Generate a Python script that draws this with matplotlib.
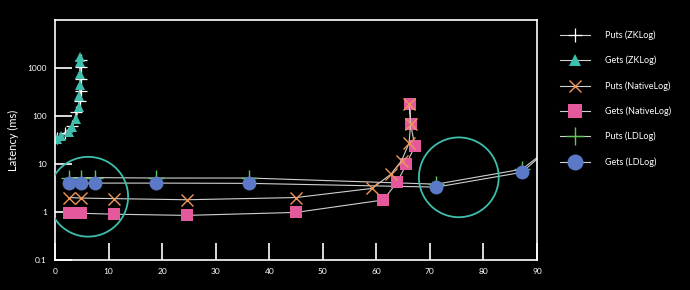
import matplotlib
matplotlib.use("Agg")
import matplotlib.pyplot as plt

plt.rcParams['font.family'] = ['Lato', 'DejaVu Sans']

# ZKLog
zk_puts_x = [0.4, 1.8, 3.2, 4.0, 4.6, 4.8, 4.8, 4.8, 4.9]
zk_puts_y = [35, 45, 62, 120, 210, 330, 580, 1050, 1500]
zk_gets_x = [0.3, 1.2, 2.6, 3.1, 3.9, 4.5, 4.5, 4.7, 4.6, 4.6, 4.7]
zk_gets_y = [33, 38, 47, 58, 87, 152, 260, 440, 750, 1340, 1720]

# NativeLog
nat_puts_x = [2.7, 4.9, 11.0, 24.6, 45.0, 59.2, 62.7, 64.7, 66.1, 66.4, 66.1]
nat_puts_y = [2.0, 1.95, 1.9, 1.8, 2.0, 3.1, 6.1, 11.7, 27, 67, 178]
nat_gets_x = [2.7, 4.9, 11.0, 24.6, 45.0, 61.3, 63.9, 65.6, 67.2, 66.4, 66.3]
nat_gets_y = [0.97, 0.94, 0.9, 0.85, 0.98, 1.78, 4.2, 9.9, 23.7, 67, 178]

# LDLog
ld_puts_x = [2.7, 4.9, 7.5, 18.9, 36.3, 71.2, 87.2, 92.0]
ld_puts_y = [5.2, 5.2, 5.2, 5.1, 5.1, 3.8, 7.8, 20]
ld_gets_x = [2.7, 4.9, 7.5, 18.9, 36.3, 71.2, 87.2, 92.0]
ld_gets_y = [4.0, 4.0, 4.0, 4.0, 3.95, 3.3, 6.7, 20]

# highlighted regions
circle_x = [6.2, 75.4]
circle_y = [2.08, 5.28]

teal = '#3ebfae'
line_c = '#d0d0d0'

fig = plt.figure(figsize=(6.9, 2.9), dpi=100, facecolor='black')
ax = fig.add_axes([55 / 690, 30 / 290, 482 / 690, 240 / 290])
ax.set_facecolor('black')

lw = 0.8
ax.plot(zk_puts_x, zk_puts_y, color=line_c, lw=lw, marker='+', ms=9, mew=0.9,
        mec='white', label='Puts (ZKLog)')
ax.plot(zk_gets_x, zk_gets_y, color=line_c, lw=lw, marker='^', ms=7, mew=0,
        mfc=teal, label='Gets (ZKLog)')
ax.plot(ld_puts_x, ld_puts_y, color=line_c, lw=lw, marker='+', ms=11, mew=1.0,
        mec='#5cc85a', label='Puts (LDLog)', zorder=2)
ax.plot(nat_puts_x, nat_puts_y, color=line_c, lw=lw, marker='x', ms=8, mew=1.0,
        mec='#f0955a', label='Puts (NativeLog)', zorder=3)
ax.plot(nat_gets_x, nat_gets_y, color=line_c, lw=lw, marker='s', ms=9, mew=0,
        mfc='#e4599b', label='Gets (NativeLog)', zorder=2.5)
ax.plot(ld_gets_x, ld_gets_y, color=line_c, lw=lw, marker='o', ms=10, mew=0,
        mfc='#5b79c6', label='Gets (LDLog)', zorder=2.2)

ax.scatter(circle_x, circle_y, s=3300, facecolors='none', edgecolors=teal,
           linewidths=1.3, zorder=4)

ax.set_yscale('log')
ax.set_xlim(0, 90)
ax.set_ylim(0.1, 10000)
ax.set_xticks(range(0, 91, 10))
ax.set_yticks([0.1, 1, 10, 100, 1000])
ax.set_yticklabels(['0.1', '1', '10', '100', '1000'])
ax.minorticks_off()
ax.tick_params(colors='white', direction='in', length=12, width=1.2,
               labelsize=6, pad=6)
for s in ax.spines.values():
    s.set_color('white')
    s.set_linewidth(1.2)
ax.set_ylabel('Latency (ms)', color='white', fontsize=8, labelpad=6)

h, l = ax.get_legend_handles_labels()
order = ['Puts (ZKLog)', 'Gets (ZKLog)', 'Puts (NativeLog)', 'Gets (NativeLog)',
         'Puts (LDLog)', 'Gets (LDLog)']
hd = dict(zip(l, h))
leg = ax.legend([hd[k] for k in order], order, loc='upper left',
                bbox_to_anchor=(1.03, 0.99), frameon=False, fontsize=6.5,
                labelcolor='white', handlelength=3.4, labelspacing=1.75,
                handletextpad=1.6, markerscale=1.15)

fig.savefig('out.png', dpi=100, facecolor='black')
